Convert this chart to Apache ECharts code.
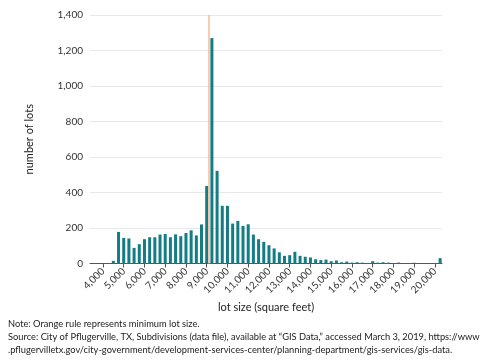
<!DOCTYPE html>
<html><head><meta charset="utf-8">
<script src="https://cdn.jsdelivr.net/npm/echarts@6/dist/echarts.min.js"></script>
<style>html,body{margin:0;padding:0;background:#fff}#c{width:480px;height:360px}</style>
</head><body><div id="c"></div>
<script>
const lotSizes = [4250,4500,4750,5000,5250,5500,5750,6000,6250,6500,6750,7000,7250,7500,7750,8000,8250,8500,8750,9000,9250,9500,9750,10000,10250,10500,10750,11000,11250,11500,11750,12000,12250,12500,12750,13000,13250,13500,13750,14000,14250,14500,14750,15000,15250,15500,15750,16000,16250,16500,16750,17000,17250,17500,17750,18000,18250,18500,18750,19000,19250,19500,19750,20000,20250];
const lotCounts = [3,15,178,144,141,88,109,137,148,148,163,166,148,164,154,172,187,158,220,437,1270,522,325,325,225,240,212,221,163,137,122,103,85,63,43,47,66,43,38,34,24,19,22,13,17,7,11,5,7,5,3,13,5,7,5,2,5,2,2,4,2,2,2,2,30];
const xTicks = [4000,5000,6000,7000,8000,9000,10000,11000,12000,13000,14000,15000,16000,17000,18000,19000,20000];
const minLotSize = 9090;
const noteLines = [
  'Note: Orange rule represents minimum lot size.',
  'Source: City of Pflugerville, TX, Subdivisions (data file), available at \u201cGIS Data,\u201d accessed March 3, 2019, https://www',
  '.pflugervilletx.gov/city-government/development-services-center/planning-department/gis-services/gis-data.'
];
const FONT = 'Lato';
const chart = echarts.init(document.getElementById('c'), null, {renderer:'canvas'});
const fmt = v => v.toLocaleString('en-US');
chart.setOption({
  animation:false,
  textStyle:{fontFamily:FONT},
  grid:{left:90,right:38,top:15,bottom:96.5},
  xAxis:{
    type:'value', min:3375, max:20340,
    name:'lot size (square feet)', nameLocation:'middle', nameGap:37,
    nameTextStyle:{fontSize:11,color:'#222',fontFamily:FONT},
    axisLine:{show:true,lineStyle:{color:'#555',width:1}},
    axisTick:{show:true,customValues:xTicks,length:4,lineStyle:{color:'#555'}},
    axisLabel:{customValues:xTicks,rotate:45,fontSize:10,color:'#333',margin:6,formatter:fmt,fontFamily:FONT},
    splitLine:{show:false}
  },
  yAxis:{
    type:'value', min:0, max:1400, interval:200,
    name:'number of lots', nameLocation:'middle', nameGap:55, nameRotate:90,
    nameTextStyle:{fontSize:11,color:'#222',fontFamily:FONT},
    axisLine:{show:false}, axisTick:{show:false},
    axisLabel:{fontSize:10,color:'#333',margin:7,formatter:fmt,fontFamily:FONT},
    splitLine:{lineStyle:{color:'#e8e8e8',width:1}}
  },
  series:[{
    type:'bar',
    data:lotSizes.map((x,i)=>[x,lotCounts[i]]),
    barWidth:3,
    itemStyle:{color:'#137d86'},
    markLine:{
      silent:true, symbol:'none', animation:false,
      label:{show:false},
      lineStyle:{color:'#fbb993',width:1.5,type:'solid'},
      data:[[{coord:[minLotSize,0]},{coord:[minLotSize,1400]}]]
    }
  }],
  graphic:noteLines.map((t,i)=>({
    type:'text', left:8, top:319+i*13.2,
    style:{text:t,fontSize:9.3,fill:'#222',fontFamily:FONT}
  }))
});
</script></body></html>
